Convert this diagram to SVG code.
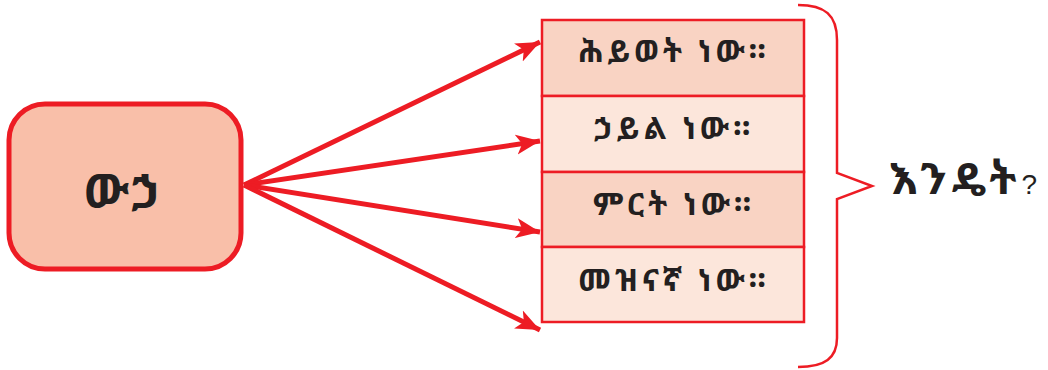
<svg xmlns="http://www.w3.org/2000/svg" width="1048" height="370" viewBox="0 0 1048 370">
<style>
.et{font-family:"Noto Sans Ethiopic","Noto Serif Ethiopic","Abyssinica SIL","Nyala","DejaVu Sans",sans-serif;fill:#231F20;font-weight:bold}
.mid{text-anchor:middle}
.rt{font-size:31px;letter-spacing:4px}
.row{stroke:#ED1C24;stroke-width:2.5}
.a{stroke:#ED1C24;stroke-width:5;fill:none}
</style>
<defs>
<marker id="ah" markerUnits="userSpaceOnUse" markerWidth="26" markerHeight="22" refX="24" refY="11" orient="auto" viewBox="0 0 26 22">
<path d="M0,1 L24,11 L0,21 L6,11 Z" fill="#ED1C24"/>
</marker>
</defs>
<rect width="1048" height="370" fill="#fff"/>
<g id="connectors">
<line class="a" x1="244" y1="185" x2="540" y2="42" marker-end="url(#ah)"/>
<line class="a" x1="244" y1="185" x2="540" y2="141" marker-end="url(#ah)"/>
<line class="a" x1="244" y1="185" x2="540" y2="232" marker-end="url(#ah)"/>
<line class="a" x1="244" y1="185" x2="540" y2="330" marker-end="url(#ah)"/>
</g>
<g id="source">
<rect x="9" y="104" width="232" height="165" rx="36" fill="#F9BFA9" stroke="#ED1C24" stroke-width="5"/>
<text class="et mid" x="125" y="208" font-size="48" letter-spacing="6">ውኃ</text>
</g>
<g id="row1">
<rect class="row" x="542" y="20" width="262" height="76" fill="#F9D3C3"/>
<text class="et mid rt" x="674" y="62">ሕይወት ነው።</text>
</g>
<g id="row2">
<rect class="row" x="542" y="96" width="262" height="76" fill="#FCE6DB"/>
<text class="et mid rt" x="674" y="139">ኃይል ነው።</text>
</g>
<g id="row3">
<rect class="row" x="542" y="172" width="262" height="75" fill="#F9D3C3"/>
<text class="et mid rt" x="674" y="215">ምርት ነው።</text>
</g>
<g id="row4">
<rect class="row" x="542" y="247" width="262" height="75" fill="#FCE6DB"/>
<text class="et mid rt" x="674" y="291">መዝናኛ ነው።</text>
</g>
<g id="brace">
<path d="M798,5 C825,5 837,15 837,40 L837,173 L872,186 L837,199 L837,338 C837,358 825,367 798,367" fill="none" stroke="#ED1C24" stroke-width="2.5"/>
</g>
<g id="question">
<text class="et" x="889" y="194" font-size="44" letter-spacing="5">እንዴት<tspan font-size="28" font-weight="normal" letter-spacing="0" font-family="Liberation Sans, sans-serif">?</tspan></text>
</g>
</svg>
